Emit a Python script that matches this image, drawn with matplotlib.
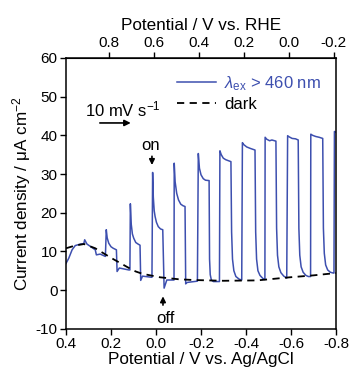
import numpy as np
import matplotlib
matplotlib.use('Agg')
import matplotlib.pyplot as plt

plt.rcParams['font.family'] = ['Liberation Sans', 'DejaVu Sans']
plt.rcParams['mathtext.fontset'] = 'custom'
plt.rcParams['mathtext.rm'] = 'Liberation Sans'
plt.rcParams['mathtext.it'] = 'Liberation Sans:italic'
plt.rcParams['axes.unicode_minus'] = False

# chopped light trace, potential (V vs Ag/AgCl) and current density (uA cm-2)
light_v = [0.400, 0.388, 0.373, 0.359, 0.336, 0.321, 0.317, 0.307, 0.270, 0.265,
           0.248, 0.225,
           0.221, 0.217, 0.210, 0.200, 0.190, 0.176, 0.173, 0.163, 0.121, 0.116,
           0.114, 0.110, 0.105, 0.099, 0.090, 0.080, 0.071, 0.068, 0.060, 0.018,
           0.015, 0.012, 0.008, 0.004, -0.002, -0.010, -0.020, -0.030, -0.036, -0.048, -0.080,
           -0.081, -0.085, -0.092, -0.100, -0.110, -0.120, -0.129, -0.132, -0.136, -0.142, -0.184,
           -0.188, -0.193, -0.200, -0.210, -0.220, -0.236, -0.238, -0.241, -0.246, -0.255, -0.282,
           -0.284, -0.290, -0.299, -0.310, -0.333, -0.336, -0.340, -0.346, -0.355, -0.370, -0.381,
           -0.384, -0.390, -0.403, -0.420, -0.440, -0.443, -0.447, -0.453, -0.462, -0.475, -0.484,
           -0.485, -0.492, -0.505, -0.515, -0.533, -0.536, -0.540, -0.546, -0.555, -0.568, -0.581,
           -0.585, -0.592, -0.605, -0.620, -0.632, -0.635, -0.639, -0.645, -0.654, -0.666, -0.677, -0.687,
           -0.688, -0.696, -0.710, -0.725, -0.741, -0.744, -0.748, -0.754, -0.763, -0.775, -0.788, -0.791,
           -0.793, -0.800]
light_j = [6.9, 8.2, 10.4, 11.5, 11.9, 12.0, 13.0, 11.9, 10.4, 9.1,
           9.3, 8.7,
           15.6, 13.5, 12.1, 11.2, 10.8, 10.4, 4.8, 5.7, 5.2, 5.2,
           22.3, 17.0, 14.5, 13.4, 12.3, 11.9, 11.6, 2.5, 3.6, 3.3,
           30.4, 24.0, 20.5, 19.0, 17.5, 16.4, 15.8, 15.6, 0.5, 2.6, 2.6,
           32.8, 28.0, 25.0, 23.3, 22.2, 21.8, 21.6, 1.6, 1.9, 2.0, 2.3,
           35.3, 31.5, 29.8, 28.8, 28.4, 28.3, 8.0, 4.0, 2.6, 2.2, 2.2,
           36.0, 35.0, 34.1, 33.7, 33.2, 15.0, 8.0, 5.0, 3.5, 2.8, 2.6,
           38.1, 37.6, 37.0, 36.6, 36.2, 15.0, 8.0, 5.0, 3.8, 3.0, 2.7,
           39.5, 39.0, 38.6, 38.8, 38.5, 16.0, 9.0, 6.0, 4.5, 3.6, 3.1,
           39.9, 39.6, 39.2, 39.1, 38.8, 16.0, 9.0, 6.0, 4.6, 3.8, 3.5, 3.5,
           40.3, 40.0, 39.7, 39.5, 39.2, 16.0, 9.5, 6.5, 5.2, 4.6, 4.4, 4.4,
           41.0, 40.8]

# dark scan
dark_v = [0.400, 0.360, 0.320, 0.270, 0.196, 0.120, 0.090, 0.060, -0.018, -0.100,
          -0.166, -0.300, -0.450, -0.595, -0.700, -0.800]
dark_j = [10.8, 11.5, 11.9, 10.8, 8.2, 5.7, 4.8, 4.2, 3.3, 2.8,
          2.6, 2.4, 2.5, 3.3, 3.8, 4.4]

x_ticks = [0.4, 0.2, 0.0, -0.2, -0.4, -0.6, -0.8]
y_ticks = [-10, 0, 10, 20, 30, 40, 50, 60]
rhe_ticks = [0.8, 0.6, 0.4, 0.2, 0.0, -0.2]
rhe_offset = 0.59

blue = '#3D4FAF'

fig = plt.figure(figsize=(3.5, 3.74), dpi=100)
ax = fig.add_axes([0.1886, 0.121, 0.7714, 0.724])

ax.plot(light_v, light_j, color=blue, lw=1.1, label=r'$\mathit{\lambda}_{\mathrm{ex}}$ > 460 nm')
ax.plot(dark_v, dark_j, color='black', lw=1.3, ls=(0, (4, 3)), label='dark')

ax.set_xlim(0.4, -0.8)
ax.set_ylim(-10, 60)
ax.set_xticks(x_ticks)
ax.set_xticklabels([f'{t:.1f}' for t in x_ticks])
ax.set_yticks(y_ticks)
ax.tick_params(direction='out', length=4, width=1, labelsize=11, pad=2)
for s in ax.spines.values():
    s.set_linewidth(1.1)

ax.set_xlabel('Potential / V vs. Ag/AgCl', fontsize=12.3, labelpad=1)
ax.set_ylabel(r'Current density / μA cm$^{-2}$', fontsize=12.3, labelpad=2)

top = ax.secondary_xaxis('top', functions=(lambda v: v + rhe_offset, lambda v: v - rhe_offset))
top.set_xticks(rhe_ticks)
top.set_xticklabels([f'{t:.1f}' for t in rhe_ticks])
top.tick_params(direction='out', length=4, width=1, labelsize=11, pad=2)
top.set_xlabel('Potential / V vs. RHE', fontsize=12.3, labelpad=4)

leg = ax.legend(loc='upper right', bbox_to_anchor=(1.0, 0.995), frameon=False, fontsize=12,
                handlelength=2.3, handletextpad=0.5, labelspacing=0.25, labelcolor='linecolor')

ax.text(0.316, 46.8, r'10 mV s$^{-1}$', fontsize=12, ha='left', va='center')
ax.annotate('', xy=(0.100, 43.2), xytext=(0.262, 43.2),
            arrowprops=dict(arrowstyle='-|>', color='black', lw=1.2, mutation_scale=9))
ax.text(0.022, 37.5, 'on', fontsize=12, ha='center', va='center')
ax.annotate('', xy=(0.018, 31.6), xytext=(0.018, 35.3),
            arrowprops=dict(arrowstyle='-|>', color='black', lw=1.2, mutation_scale=8))
ax.text(-0.04, -7.4, 'off', fontsize=12, ha='center', va='center')
ax.annotate('', xy=(-0.031, -0.9), xytext=(-0.031, -4.6),
            arrowprops=dict(arrowstyle='-|>', color='black', lw=1.2, mutation_scale=8))

fig.savefig('out.png', dpi=100)
